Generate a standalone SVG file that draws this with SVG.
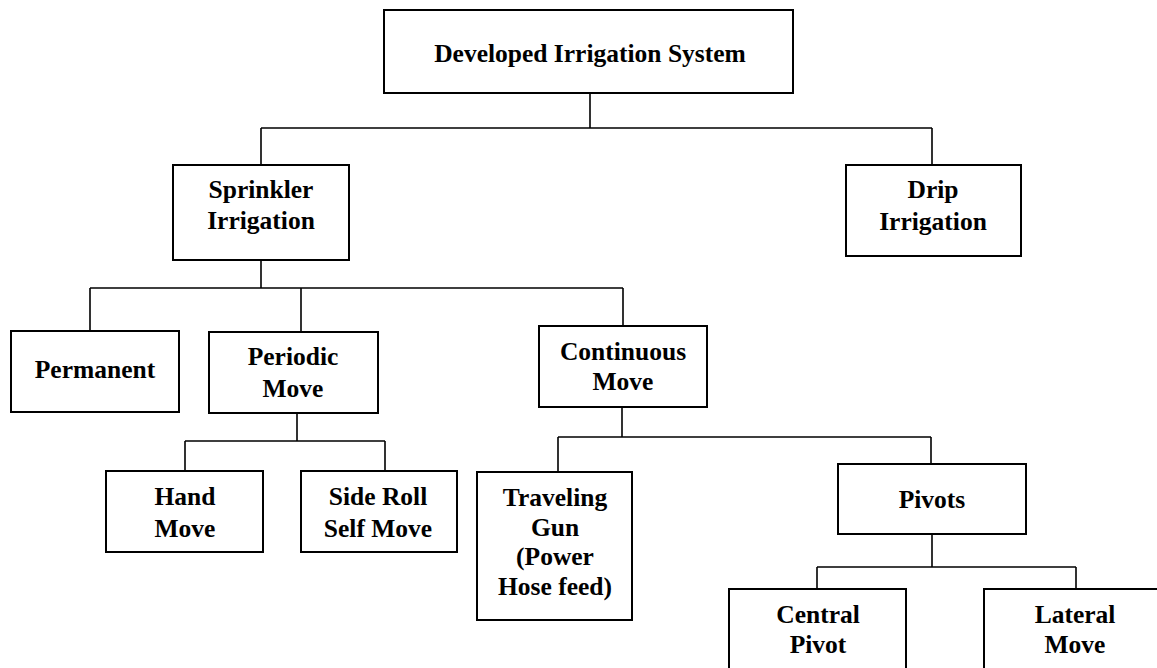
<svg xmlns="http://www.w3.org/2000/svg" width="1157" height="668" viewBox="0 0 1157 668">
<style>
.box{fill:#fff;stroke:#000;stroke-width:2}
.ln{fill:none;stroke:#000;stroke-width:1.6}
text{font-family:"Liberation Serif","Times New Roman",serif;font-weight:bold;font-size:25.5px;text-anchor:middle;fill:#000}
</style>
<rect width="1157" height="668" fill="#fff"/>
<g id="connectors">
<path class="ln" d="M590,93V128M261,128H932M261,128V165M932,128V165"/>
<path class="ln" d="M261,260V288M90,288H623M90,288V331M301,288V332M623,288V326"/>
<path class="ln" d="M297,413V441M185,441H385M185,441V471M385,441V471"/>
<path class="ln" d="M622,407V437M558,437H931M558,437V472M931,437V464"/>
<path class="ln" d="M932,534V567M817,567H1076M817,567V589M1076,567V589"/>
</g>
<g id="n-root"><rect class="box" x="384" y="10" width="409" height="83"/><text x="590" y="62">Developed Irrigation System</text></g>
<g id="n-sprinkler"><rect class="box" x="173" y="165" width="176" height="95"/><text x="261" y="198">Sprinkler</text><text x="261" y="229">Irrigation</text></g>
<g id="n-drip"><rect class="box" x="846" y="165" width="175" height="91"/><text x="933" y="198">Drip</text><text x="933" y="230">Irrigation</text></g>
<g id="n-permanent"><rect class="box" x="11" y="331" width="168" height="81"/><text x="95" y="378">Permanent</text></g>
<g id="n-periodic"><rect class="box" x="209" y="332" width="169" height="81"/><text x="293" y="365">Periodic</text><text x="293" y="397">Move</text></g>
<g id="n-continuous"><rect class="box" x="539" y="326" width="168" height="81"/><text x="623" y="360">Continuous</text><text x="623" y="390">Move</text></g>
<g id="n-hand"><rect class="box" x="106" y="471" width="157" height="81"/><text x="185" y="505">Hand</text><text x="185" y="537">Move</text></g>
<g id="n-sideroll"><rect class="box" x="301" y="471" width="156" height="81"/><text x="378" y="505">Side Roll</text><text x="378" y="537">Self Move</text></g>
<g id="n-traveling"><rect class="box" x="477" y="472" width="155" height="148"/><text x="555" y="506">Traveling</text><text x="555" y="536">Gun</text><text x="555" y="565">(Power</text><text x="555" y="595">Hose feed)</text></g>
<g id="n-pivots"><rect class="box" x="838" y="464" width="188" height="70"/><text x="932" y="508">Pivots</text></g>
<g id="n-central"><rect class="box" x="729" y="589" width="177" height="90"/><text x="818" y="623">Central</text><text x="818" y="653">Pivot</text></g>
<g id="n-lateral"><rect class="box" x="984" y="589" width="190" height="90"/><text x="1075" y="623">Lateral</text><text x="1075" y="653">Move</text></g>
</svg>
